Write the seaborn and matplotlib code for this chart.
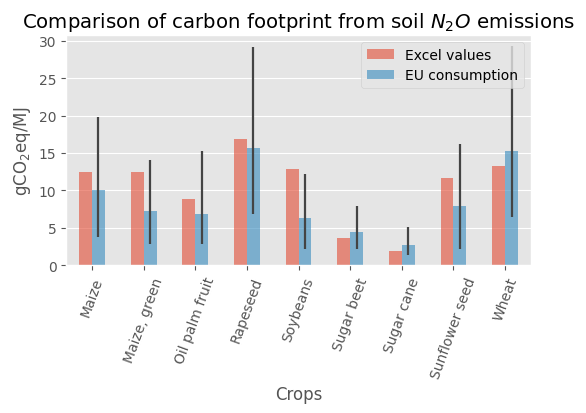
import numpy as np
import pandas as pd
import seaborn as sns
import matplotlib.pyplot as plt

plt.style.use('ggplot')

##############################################################################

crops = ["Maize", "Maize, green", "Oil palm fruit", "Rapeseed", "Soybeans",
         "Sugar beet", "Sugar cane", "Sunflower seed", "Wheat"]

excel_values = [12.5, 12.5, 8.9, 16.9, 12.8, 3.7, 1.9, 11.7, 13.2]
eu_consumption = [10.1, 7.3, 6.9, 15.6, 6.3, 4.5, 2.7, 7.9, 15.3]

# min / max range of the EU consumption estimate
eu_low = [3.8, 2.9, 2.9, 6.9, 2.1, 2.1, 1.3, 2.2, 6.4]
eu_high = [19.8, 14.0, 15.2, 29.1, 12.2, 7.9, 5.1, 16.2, 29.3]

##############################################################################

df = pd.DataFrame({"Crops": crops,
                   "Excel values": excel_values,
                   "EU consumption": eu_consumption})
df_long = df.melt(id_vars="Crops", var_name="Source", value_name="value")

fig, ax = plt.subplots(figsize=(5.86, 4.14), dpi=100)
fig.subplots_adjust(left=0.113, right=0.906, bottom=0.357, top=0.913)

sns.barplot(data=df_long, x="Crops", y="value", hue="Source",
            palette=["#E24A33", "#348ABD"], alpha=0.6, width=0.5,
            errorbar=None, saturation=1, ax=ax)

# error bars on the EU consumption bars
eu_bars = ax.containers[1]
xs = [p.get_x() + p.get_width() / 2 for p in eu_bars]
yerr = [np.array(eu_consumption) - np.array(eu_low),
        np.array(eu_high) - np.array(eu_consumption)]
ax.errorbar(xs, eu_consumption, yerr=yerr, fmt="none", ecolor="#444444",
            elinewidth=1.6, capsize=0, zorder=3)
ax.set_xlim(-0.5, len(crops) - 0.5)

ax.set_title("Comparison of carbon footprint from soil $N_2O$ emissions",
             fontsize=14.2)
ax.set_xlabel("Crops")
ax.set_ylabel("gCO$_2$eq/MJ")
ax.tick_params(axis="x", labelrotation=70)
ax.legend(loc="upper right")

plt.savefig("out.png", dpi=100)
